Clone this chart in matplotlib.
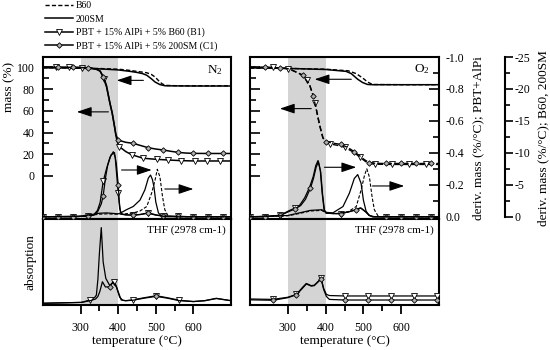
import matplotlib
matplotlib.use('Agg')
import matplotlib.pyplot as plt
from matplotlib.lines import Line2D
from matplotlib.ticker import FormatStrFormatter

plt.rcParams['font.family'] = 'serif'
plt.rcParams['font.serif'] = ['Liberation Serif', 'DejaVu Serif']
plt.rcParams['mathtext.fontset'] = 'custom'
plt.rcParams['mathtext.rm'] = 'Liberation Serif'
plt.rcParams['mathtext.it'] = 'Liberation Serif:italic'
plt.rcParams['axes.unicode_minus'] = False

# ---------------- N2 : mass (%) ----------------
T_b60_m_n2 = [200, 250, 300, 350, 400, 430, 460, 476, 488, 498, 508, 516, 525, 560, 600, 650, 700]
m_b60_n2 = [99.6, 99.5, 99.3, 98.9, 98.3, 97.2, 95.8, 95.0, 93.5, 91.1, 87.5, 85.0, 83.4, 83.0, 83.0, 83.0, 83.0]
T_200_m_n2 = [200, 250, 300, 350, 400, 431, 450, 465, 476, 488, 498, 511, 525, 560, 600, 650, 700]
m_200_n2 = [99.6, 99.5, 99.2, 98.6, 97.6, 96.3, 95.3, 94.2, 92.7, 89.5, 86.5, 84.1, 83.0, 82.9, 82.8, 82.8, 82.8]
T_b1_m_n2 = [200, 235, 270, 305, 330, 345, 352, 363, 369, 378, 384, 390, 394, 398, 403, 420, 436, 467,
             502, 533, 568, 604, 635, 670, 700]
m_b1_n2 = [100, 100, 100, 99.8, 99.2, 98, 96.5, 89.6, 83, 67, 58, 46, 37, 31, 27, 22.5, 19.5, 16.3,
           15.3, 14.7, 14.1, 13.8, 13.8, 13.8, 13.8]
T_c1_m_n2 = [200, 240, 280, 320, 340, 352, 360, 369, 378, 384, 390, 394, 400, 420, 440, 460, 480, 500,
             520, 540, 560, 580, 600, 640, 680, 700]
m_c1_n2 = [100, 100, 100, 99.6, 98.5, 96.5, 91, 82, 67, 58, 46, 38, 33, 31, 30, 28, 26, 24.8,
           23.9, 22.7, 21.7, 21.1, 20.8, 20.7, 20.7, 20.7]
mk_b1_m_n2 = [235, 270, 305, 363, 403, 436, 467, 502, 533, 568, 604, 635, 670]
mk_c1_m_n2 = [240, 280, 320, 360, 400, 440, 480, 520, 560, 600, 640, 680]

# ---------------- N2 : deriv. mass ----------------
T_b1_d_n2 = [200, 240, 280, 320, 335, 345, 352, 360, 369, 378, 387, 392, 396, 400, 404, 408, 420, 440,
             460, 480, 500, 520, 560, 600, 640, 680, 700]
d_b1_n2 = [0, 0, 0, -0.004, -0.012, -0.04, -0.09, -0.22, -0.30, -0.37, -0.405, -0.37, -0.26, -0.15,
           -0.05, -0.018, -0.012, -0.01, -0.014, -0.022, -0.01, -0.004, -0.002, 0, 0, 0, 0]
T_c1_d_n2 = [200, 240, 280, 320, 335, 345, 355, 360, 366, 372, 381, 390, 395, 400, 403, 406, 410, 420,
             440, 460, 480, 500, 520, 560, 600, 640, 680, 700]
d_c1_n2 = [0, 0, 0, -0.004, -0.01, -0.03, -0.08, -0.13, -0.24, -0.32, -0.385, -0.40, -0.33, -0.2,
           -0.09, -0.035, -0.015, -0.012, -0.01, -0.015, -0.025, -0.012, -0.004, -0.002, 0, 0, 0, 0]
T_200_d_n2 = [200, 300, 330, 350, 370, 390, 400, 410, 422, 440, 458, 471, 480, 486, 491, 495, 500, 507,
              515, 530, 600, 700]
d_200_n2 = [0, -0.1, -0.35, -0.55, -0.6, -0.5, -0.45, -0.7, -1.1, -1.6, -2.6, -4.2, -6.0, -6.5, -5.8,
            -4.7, -2.3, -0.6, -0.1, 0, 0, 0]
T_b60_d_n2 = [200, 300, 330, 350, 370, 390, 410, 440, 458, 476, 489, 498, 504, 511, 518, 524, 533, 550, 700]
d_b60_n2 = [0, -0.05, -0.25, -0.4, -0.45, -0.4, -0.4, -0.6, -0.9, -1.6, -3.7, -5.7, -7.4, -6.2, -3.1,
            -1.1, -0.1, 0, 0]

# ---------------- O2 : mass (%) ----------------
T_b60_m_o2 = [200, 300, 400, 460, 481, 498, 511, 524, 600, 700]
m_b60_o2 = [99.3, 99.0, 98.3, 96.8, 94.2, 90.2, 86.5, 84.2, 84.0, 84.0]
T_200_m_o2 = [200, 300, 400, 454, 468, 485, 498, 511, 525, 600, 700]
m_200_o2 = [99.5, 99.0, 98.0, 96.3, 94.2, 89.0, 86.0, 84.2, 84.0, 84.0, 84.0]
T_b1_m_o2 = [200, 260, 300, 318, 340, 350, 358, 366, 372, 378, 384, 393, 402, 411, 430, 450, 476, 490,
             498, 507, 516, 530, 575, 620, 665, 700]
m_b1_o2 = [100, 100, 98.8, 96.3, 92.7, 88.5, 83.5, 75, 67, 57, 47, 35, 31, 29.5, 28.3, 26.5, 21.5, 17.5,
           15.3, 13, 11.6, 10.8, 10.6, 10.6, 10.6, 10.6]
T_c1_m_o2 = [200, 240, 280, 305, 318, 340, 358, 367, 375, 384, 393, 402, 420, 441, 460, 476, 490, 498,
             507, 516, 533, 560, 600, 640, 680, 700]
m_c1_o2 = [100, 100, 99.5, 98.5, 96.3, 92.7, 83.5, 74, 62, 47, 35, 31.5, 30.2, 29, 26, 22.3, 18.5, 16.2,
           14, 12.4, 11.6, 11.5, 11.5, 11.5, 11.5, 11.5]
mk_b1_m_o2 = [260, 300, 350, 372, 411, 450, 490, 530, 575, 620, 665]
mk_c1_m_o2 = [240, 280, 340, 367, 402, 441, 476, 516, 560, 600, 640, 680]

# ---------------- O2 : deriv. mass ----------------
T_b1_d_o2 = [200, 240, 280, 305, 320, 332, 345, 358, 367, 374, 380, 386, 391, 396, 402, 420, 440, 460,
             481, 494, 507, 515, 524, 560, 600, 640, 680, 700]
d_b1_o2 = [0, 0, -0.01, -0.04, -0.055, -0.074, -0.12, -0.187, -0.25, -0.32, -0.352, -0.29, -0.146,
           -0.043, -0.023, -0.02, -0.02, -0.03, -0.043, -0.054, -0.03, -0.01, 0, 0, 0, 0, 0, 0]
T_c1_d_o2 = [200, 240, 280, 305, 320, 334, 347, 360, 368, 375, 381, 387, 392, 397, 403, 420, 440, 460,
             480, 492, 505, 515, 524, 560, 600, 640, 680, 700]
d_c1_o2 = [0, 0, -0.008, -0.035, -0.05, -0.07, -0.11, -0.18, -0.24, -0.31, -0.345, -0.28, -0.14,
           -0.04, -0.022, -0.02, -0.02, -0.03, -0.045, -0.056, -0.032, -0.01, 0, 0, 0, 0, 0, 0]
T_200_d_o2 = [200, 300, 330, 360, 390, 400, 419, 446, 463, 476, 485, 494, 500, 507, 515, 530, 700]
d_200_o2 = [0, -0.2, -0.6, -1.0, -1.1, -0.7, -0.6, -1.6, -3.7, -6.0, -6.6, -5.2, -2.6, -0.9, -0.2, 0, 0]
T_b60_d_o2 = [200, 300, 330, 360, 390, 400, 430, 460, 481, 494, 503, 509, 516, 523, 529, 540, 700]
d_b60_o2 = [0, -0.15, -0.5, -0.9, -1.0, -0.6, -0.5, -0.8, -1.6, -4.2, -6.5, -7.5, -6.2, -3.1, -1.1, 0, 0]

# ---------------- THF absorption ----------------
T_b1_a_n2 = [200, 250, 302, 325, 338, 342, 346, 350, 355, 360, 367, 377, 384, 390, 395, 400, 408, 420,
             439, 470, 501, 530, 563, 600, 630, 661, 700]
a_b1_n2 = [0.02, 0.025, 0.03, 0.058, 0.09, 0.116, 0.3, 0.6, 0.90, 0.50, 0.31, 0.23, 0.25, 0.27, 0.22,
           0.155, 0.058, 0.05, 0.06, 0.085, 0.108, 0.085, 0.055, 0.04, 0.05, 0.078, 0.05]
T_c1_a_n2 = [200, 250, 302, 325, 340, 346, 351, 358, 366, 377, 386, 395, 404, 412, 420, 439, 470, 501,
             530, 563, 600, 630, 661, 700]
a_c1_n2 = [0.02, 0.025, 0.03, 0.05, 0.07, 0.1, 0.155, 0.27, 0.21, 0.21, 0.27, 0.21, 0.09, 0.055, 0.05,
           0.055, 0.08, 0.10, 0.08, 0.05, 0.04, 0.05, 0.075, 0.05]
mk_b1_a_n2 = [325, 390, 439, 501, 563]
mk_c1_a_n2 = [377, 501]

T_a_o2 = [200, 261, 300, 323, 340, 349, 362, 370, 384, 388, 395, 402, 410, 450, 511, 572, 633, 695, 700]
a_b1_o2 = [0.07, 0.065, 0.09, 0.124, 0.21, 0.25, 0.225, 0.23, 0.29, 0.31, 0.19, 0.124, 0.11, 0.105,
           0.105, 0.105, 0.105, 0.105, 0.105]
a_c1_o2 = [0.06, 0.055, 0.085, 0.12, 0.2, 0.245, 0.22, 0.225, 0.285, 0.305, 0.18, 0.1, 0.065, 0.058,
           0.058, 0.058, 0.058, 0.058, 0.058]
mk_a_o2 = [261, 323, 388, 450, 511, 572, 633, 695]

labels = ['B60', '200SM', 'PBT + 15% AlPi + 5% B60 (B1)', 'PBT + 15% AlPi + 5% 200SM (C1)']

DASH = (0, (3, 1.6))
MK = {'v': dict(marker='v', markersize=3.8, markerfacecolor='white', markeredgecolor='black', markeredgewidth=0.6),
      'D': dict(marker='D', markersize=2.8, markerfacecolor='#b0b0b0', markeredgecolor='black', markeredgewidth=0.6)}


def curve(ax, T, y, ls='-', lw=0.9, mk=None, at=None, z=3):
    kw = dict(color='black', linestyle=ls, linewidth=lw, zorder=z)
    if mk is not None:
        if at is None:
            at = [t for t in T if t % 40 == 0]
        kw.update(MK[mk])
        kw['markevery'] = [i for i, t in enumerate(T) if t in at]
    ax.plot(T, y, **kw)


def arrow(ax, tail, head):
    ax.annotate('', xy=head, xytext=tail, zorder=6,
                arrowprops=dict(arrowstyle='-|>,head_length=0.9,head_width=0.3', color='black',
                                lw=0.8, mutation_scale=10, shrinkA=0, shrinkB=0))


fig = plt.figure(figsize=(5.5, 3.5), dpi=100)
W, H = 550.0, 350.0
axN = fig.add_axes([43 / W, 1 - 219 / H, 188 / W, 162 / H])
axO = fig.add_axes([250 / W, 1 - 219 / H, 189 / W, 162 / H])
axNa = fig.add_axes([43 / W, 1 - 305 / H, 188 / W, 86 / H])
axOa = fig.add_axes([250 / W, 1 - 305 / H, 189 / W, 86 / H])

tops = []
for ax in (axN, axO):
    pbt = ax.twinx()
    b60 = ax.twinx()
    tops.append((ax, pbt, b60))
    ax.set_xlim(200, 700)
    ax.set_ylim(-39.6, 109.5)
    pbt.set_ylim(0.014, -0.995)
    b60.set_ylim(0.35, -24.9)
    ax.axvspan(300, 400, color='#d4d4d4', lw=0, zorder=0)
    ax.tick_params(axis='x', bottom=False, labelbottom=False)
    ax.set_yticks([0, 20, 40, 60, 80, 100])
    ax.set_yticks([10, 30, 50, 70, 90], minor=True)
    ax.tick_params(axis='y', which='major', direction='in', length=7, width=1.2, labelsize=8.5, pad=6)
    ax.tick_params(axis='y', which='minor', direction='in', length=4, width=1.2)
    for s in ax.spines.values():
        s.set_linewidth(1.5)
    for t in (pbt, b60):
        for s in t.spines.values():
            s.set_visible(False)
        t.tick_params(axis='y', which='both', right=False, labelright=False)

for ax in (axNa, axOa):
    ax.set_xlim(200, 700)
    ax.set_ylim(0, 1)
    ax.axvspan(300, 400, color='#d4d4d4', lw=0, zorder=0)
    ax.set_yticks([])
    ax.set_xticks([300, 400, 500, 600])
    ax.set_xticks([350, 450, 550], minor=True)
    ax.tick_params(axis='x', which='major', direction='out', length=6.5, width=1.3, labelsize=8.5, pad=6)
    ax.tick_params(axis='x', which='minor', direction='out', length=4.5, width=1.3)
    ax.set_xlabel('temperature (°C)', fontsize=9.5, labelpad=0.5)
    for s in ax.spines.values():
        s.set_linewidth(1.5)
    ax.text(0.97, 0.93, 'THF (2978 cm-1)', transform=ax.transAxes, ha='right', va='top', fontsize=8)

axO.tick_params(axis='y', labelleft=False)

# N2 panel
ax, pbt, b60 = tops[0]
curve(ax, T_b60_m_n2, m_b60_n2, ls=DASH, lw=1.0)
curve(ax, T_200_m_n2, m_200_n2, lw=1.1)
curve(ax, T_b1_m_n2, m_b1_n2, lw=1.1, mk='v', at=mk_b1_m_n2)
curve(ax, T_c1_m_n2, m_c1_n2, lw=1.1, mk='D', at=mk_c1_m_n2)
curve(b60, T_b60_d_n2, d_b60_n2, ls=DASH, lw=0.8)
curve(b60, T_200_d_n2, d_200_n2, lw=0.9)
curve(pbt, T_b1_d_n2, d_b1_n2, lw=0.9, mk='v')
curve(pbt, T_c1_d_n2, d_c1_n2, lw=0.9, mk='D')
arrow(ax, (467, 88), (396, 88))
arrow(ax, (374, 59), (290, 59))
arrow(ax, (409, 5.5), (489, 5.5))
arrow(ax, (524, -12), (600, -12))
ax.text(0.955, 0.92, r'N$_2$', transform=ax.transAxes, ha='right', va='center', fontsize=9.5)
ax.set_ylabel('mass (%)', fontsize=9.5)
ax.yaxis.set_label_coords(-0.15, 0.817)

# O2 panel
ax, pbt, b60 = tops[1]
curve(ax, T_b60_m_o2, m_b60_o2, ls=DASH, lw=1.0)
curve(ax, T_200_m_o2, m_200_o2, lw=1.1)
curve(ax, T_b1_m_o2, m_b1_o2, ls=(0, (4, 2)), lw=1.0, mk='v', at=mk_b1_m_o2)
curve(ax, T_c1_m_o2, m_c1_o2, ls=(0, (4, 2)), lw=1.0, mk='D', at=mk_c1_m_o2)
curve(b60, T_b60_d_o2, d_b60_o2, ls=DASH, lw=0.8)
curve(b60, T_200_d_o2, d_200_o2, lw=0.9)
curve(pbt, T_b1_d_o2, d_b1_o2, lw=0.9, mk='v')
curve(pbt, T_c1_d_o2, d_c1_o2, lw=0.9, mk='D')
arrow(ax, (468, 89), (371, 89))
arrow(ax, (362, 62), (279, 62))
arrow(ax, (397, 8), (481, 8))
arrow(ax, (524, -9.2), (608, -9.2))
ax.text(0.952, 0.926, r'O$_2$', transform=ax.transAxes, ha='right', va='center', fontsize=9.5)

# right-hand deriv. axes
pbt.tick_params(axis='y', which='both', right=True, labelright=True)
pbt.set_yticks([0.0, -0.2, -0.4, -0.6, -0.8, -1.0])
pbt.set_yticks([-0.1, -0.3, -0.5, -0.7, -0.9], minor=True)
pbt.yaxis.set_major_formatter(FormatStrFormatter('%.1f'))
pbt.tick_params(axis='y', which='major', direction='in', length=7, width=1.2, labelsize=8.5, pad=5)
pbt.tick_params(axis='y', which='minor', direction='in', length=4, width=1.2)
pbt.set_ylabel('deriv. mass (%/°C); PBT+AlPi', fontsize=9.5)
pbt.yaxis.set_label_coords(1.175, 0.5)

b60.spines['right'].set_visible(True)
b60.spines['right'].set_position(('axes', 1.349))
b60.spines['right'].set_bounds(-25, 0)
b60.spines['right'].set_linewidth(1.5)
b60.tick_params(axis='y', which='both', right=True, labelright=True)
b60.set_yticks([0, -5, -10, -15, -20, -25])
b60.set_yticks([-2.5, -7.5, -12.5, -17.5, -22.5], minor=True)
b60.tick_params(axis='y', which='major', direction='out', length=5.5, width=1.2, labelsize=8.5, pad=1.5)
b60.tick_params(axis='y', which='minor', direction='out', length=3.5, width=1.2)
b60.set_ylabel('deriv. mass (%/°C); B60, 200SM', fontsize=9.5)
b60.yaxis.set_label_coords(1.519, 0.5)

# absorption
curve(axNa, T_b1_a_n2, a_b1_n2, lw=0.9, mk='v', at=mk_b1_a_n2)
curve(axNa, T_c1_a_n2, a_c1_n2, lw=0.9, mk='D', at=mk_c1_a_n2)
curve(axOa, T_a_o2, a_b1_o2, lw=0.9, mk='v', at=mk_a_o2)
curve(axOa, T_a_o2, a_c1_o2, lw=0.9, mk='D', at=mk_a_o2)
axNa.set_ylabel('absorption', fontsize=9.5)
axNa.yaxis.set_label_coords(-0.035, 0.5)

handles = [Line2D([], [], color='black', linestyle=DASH, lw=1.0),
           Line2D([], [], color='black', lw=1.1),
           Line2D([], [], color='black', lw=1.1, **MK['v']),
           Line2D([], [], color='black', lw=1.1, **MK['D'])]
fig.legend(handles, labels, loc='upper left', bbox_to_anchor=(44 / W, 1.0), frameon=False,
           fontsize=7, handlelength=2.8, handletextpad=0.35, labelspacing=0.42, borderpad=0.15,
           borderaxespad=0)

fig.savefig('out.png', dpi=100)
